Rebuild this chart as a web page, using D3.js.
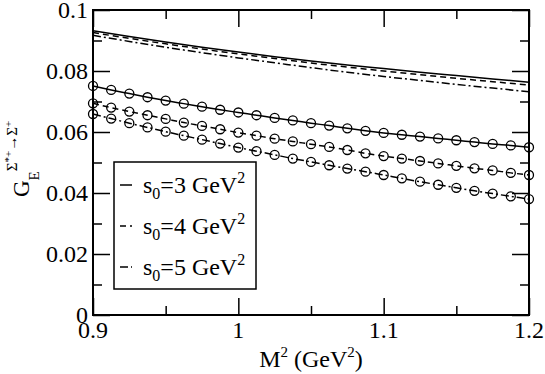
<!DOCTYPE html>
<html>
<head>
<meta charset="utf-8">
<script src="https://cdn.jsdelivr.net/npm/d3@7"></script>
<style>
  body { margin: 0; background: #fff; }
  text { font-family: "Liberation Serif", "Times New Roman", serif; fill: #000; }
</style>
</head>
<body>
<div id="chart"></div>
<script>
// M^2 grid of the marked curves (GeV^2)
const mSqMarked = [0.9, 0.9125, 0.925, 0.9375, 0.95, 0.9625, 0.975, 0.9875, 1.0, 1.0125,
  1.025, 1.0375, 1.05, 1.0625, 1.075, 1.0875, 1.1, 1.1125, 1.125, 1.1375,
  1.15, 1.1625, 1.175, 1.1875, 1.2]
// marked curves, one per s0
const markedS3 = [0.0751, 0.0738, 0.0726, 0.0714, 0.0703, 0.0693, 0.0683, 0.0673, 0.0664, 0.0655,
  0.0646, 0.0638, 0.0629, 0.0621, 0.0612, 0.0604, 0.0597, 0.0591, 0.0585, 0.0579,
  0.0573, 0.0567, 0.0561, 0.0556, 0.0550]
const markedS4 = [0.0694, 0.0680, 0.0667, 0.0655, 0.0643, 0.0631, 0.0620, 0.0609, 0.0598, 0.0588,
  0.0578, 0.0569, 0.0560, 0.0551, 0.0541, 0.0530, 0.0521, 0.0513, 0.0505, 0.0497,
  0.0489, 0.0481, 0.0474, 0.0466, 0.0459]
const markedS5 = [0.0659, 0.0644, 0.0629, 0.0615, 0.0601, 0.0588, 0.0575, 0.0562, 0.0549, 0.0537,
  0.0525, 0.0513, 0.0502, 0.0491, 0.0480, 0.0470, 0.0459, 0.0448, 0.0437, 0.0427,
  0.0417, 0.0407, 0.0398, 0.0389, 0.0380]

// M^2 grid of the plain curves
const mSqPlain = [0.9, 0.925, 0.95, 0.975, 1.0, 1.025, 1.05, 1.075, 1.1, 1.125, 1.15, 1.175, 1.2]
const plainS3 = [0.0932, 0.0913, 0.0895, 0.0878, 0.0862, 0.0847, 0.0833, 0.0820, 0.0808, 0.0796, 0.0785, 0.0774, 0.0763]
const plainS4 = [0.0926, 0.0907, 0.0889, 0.0872, 0.0856, 0.0841, 0.0826, 0.0813, 0.0800, 0.0788, 0.0776, 0.0765, 0.0754]
const plainS5 = [0.0917, 0.0897, 0.0878, 0.0860, 0.0843, 0.0827, 0.0811, 0.0796, 0.0782, 0.0769, 0.0756, 0.0744, 0.0732]

const xTicks = [0.9, 1.0, 1.1, 1.2]
const xTickLabels = ["0.9", "1", "1.1", "1.2"]
const xMinor = [0.95, 1.05, 1.15]
const yTicks = [0, 0.02, 0.04, 0.06, 0.08, 0.1]
const yTickLabels = ["0", "0.02", "0.04", "0.06", "0.08", "0.1"]
const yMinor = [0.01, 0.03, 0.05, 0.07, 0.09]
const legendS0 = ["3", "4", "5"]

const width = 545, height = 374
const margin = { top: 10, right: 16, bottom: 59, left: 93 }
const w = width - margin.left - margin.right
const h = height - margin.top - margin.bottom

const dashes = ["none", "6,4", "8,3,2,3"]

const svg = d3.select("#chart").append("svg")
  .attr("width", width)
  .attr("height", height)

const g = svg.append("g")
  .attr("transform", "translate(" + margin.left + "," + margin.top + ")")

const x = d3.scaleLinear().domain([0.9, 1.2]).range([0, w])
const y = d3.scaleLinear().domain([0, 0.1]).range([h, 0])

const line = d3.line()
  .x(d => x(d[0]))
  .y(d => y(d[1]))
  .curve(d3.curveMonotoneX)

// plain curves
const plain = [plainS3, plainS4, plainS5]
plain.forEach((vals, i) => {
  g.append("path")
    .datum(mSqPlain.map((m, j) => [m, vals[j]]))
    .attr("d", line)
    .attr("fill", "none")
    .attr("stroke", "#000")
    .attr("stroke-width", 1.5)
    .attr("stroke-dasharray", dashes[i])
})

// marked curves
const marked = [markedS3, markedS4, markedS5]
marked.forEach((vals, i) => {
  const pts = mSqMarked.map((m, j) => [m, vals[j]])
  g.append("path")
    .datum(pts)
    .attr("d", line)
    .attr("fill", "none")
    .attr("stroke", "#000")
    .attr("stroke-width", 1.5)
    .attr("stroke-dasharray", dashes[i])
  g.append("g").selectAll("circle")
    .data(pts)
    .join("circle")
    .attr("cx", d => x(d[0]))
    .attr("cy", d => y(d[1]))
    .attr("r", 4.5)
    .attr("fill", "none")
    .attr("stroke", "#000")
    .attr("stroke-width", 1.3)
})

// axes: ticks inside on all four sides
const tickAxis = (axis, values, size) => axis.tickValues(values).tickSize(size).tickFormat("")
const axes = g.append("g").attr("class", "axes")
const drawTicks = (sel) => sel.call(s => s.select(".domain").remove())
  .selectAll("line").attr("stroke", "#000").attr("stroke-width", 1.5)

axes.append("g").attr("transform", "translate(0," + h + ")").call(tickAxis(d3.axisTop(x), xTicks, 17)).call(drawTicks)
axes.append("g").attr("transform", "translate(0," + h + ")").call(tickAxis(d3.axisTop(x), xMinor, 9)).call(drawTicks)
axes.append("g").call(tickAxis(d3.axisBottom(x), xTicks, 17)).call(drawTicks)
axes.append("g").call(tickAxis(d3.axisBottom(x), xMinor, 9)).call(drawTicks)
axes.append("g").call(tickAxis(d3.axisRight(y), yTicks, 17)).call(drawTicks)
axes.append("g").call(tickAxis(d3.axisRight(y), yMinor, 9)).call(drawTicks)
axes.append("g").attr("transform", "translate(" + w + ",0)").call(tickAxis(d3.axisLeft(y), yTicks, 17)).call(drawTicks)
axes.append("g").attr("transform", "translate(" + w + ",0)").call(tickAxis(d3.axisLeft(y), yMinor, 9)).call(drawTicks)

g.append("rect")
  .attr("width", w)
  .attr("height", h)
  .attr("fill", "none")
  .attr("stroke", "#000")
  .attr("stroke-width", 2)

// tick labels
g.append("g").selectAll("text")
  .data(xTicks)
  .join("text")
  .attr("x", d => x(d))
  .attr("y", h + 23)
  .attr("text-anchor", "middle")
  .attr("font-size", 24)
  .text((d, i) => xTickLabels[i])

g.append("g").selectAll("text")
  .data(yTicks)
  .join("text")
  .attr("x", -5)
  .attr("y", d => y(d) + 8)
  .attr("text-anchor", "end")
  .attr("font-size", 24)
  .text((d, i) => yTickLabels[i])

// x axis title
const xt = svg.append("text")
  .attr("x", margin.left + w / 2)
  .attr("y", 367)
  .attr("text-anchor", "middle")
  .attr("font-size", 24)
xt.append("tspan").text("M")
xt.append("tspan").attr("font-size", 15).attr("dy", -10).text("2")
xt.append("tspan").attr("dy", 10).text(" (GeV")
xt.append("tspan").attr("font-size", 15).attr("dy", -10).text("2")
xt.append("tspan").attr("dy", 10).text(")")

// y axis title
const yt = svg.append("text")
  .attr("transform", "translate(29,197) rotate(-90)")
  .attr("font-size", 23)
yt.append("tspan").text("G")
yt.append("tspan").attr("font-size", 15).attr("dy", 10).text("E")
yt.append("tspan").attr("font-size", 15).attr("dy", -22).text("Σ")
yt.append("tspan").attr("font-size", 11).attr("dy", -5).text("*+")
yt.append("tspan").attr("font-size", 15).attr("dy", 5).text("→Σ")
yt.append("tspan").attr("font-size", 11).attr("dy", -5).text("+")

// legend
const lg = svg.append("g").attr("transform", "translate(114,162)")
lg.append("rect")
  .attr("width", 142)
  .attr("height", 127)
  .attr("fill", "#fff")
  .attr("stroke", "#000")
  .attr("stroke-width", 1.5)

legendS0.forEach((s, i) => {
  const ly = 23 + i * 41
  lg.append("line")
    .attr("x1", 6).attr("x2", 18)
    .attr("y1", ly).attr("y2", ly)
    .attr("stroke", "#000")
    .attr("stroke-width", 1.5)
    .attr("stroke-dasharray", dashes[i])
  const t = lg.append("text")
    .attr("x", 29)
    .attr("y", ly + 8)
    .attr("font-size", 24)
  t.append("tspan").text("s")
  t.append("tspan").attr("font-size", 16).attr("dy", 6).text("0")
  t.append("tspan").attr("dy", -6).text("=" + s + " GeV")
  t.append("tspan").attr("font-size", 16).attr("dy", -10).text("2")
})
</script>
</body>
</html>
